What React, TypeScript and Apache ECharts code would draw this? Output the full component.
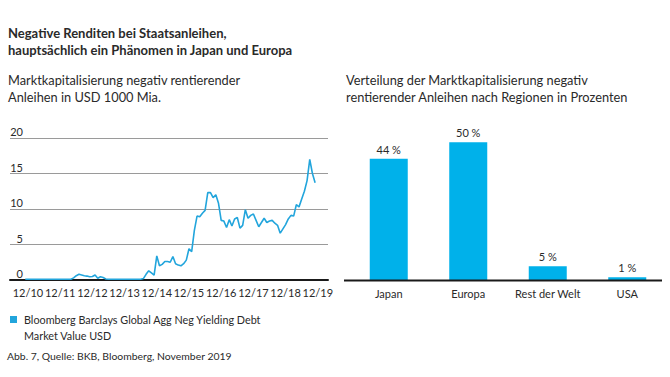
import React, { useEffect, useRef } from "react";
import * as echarts from "echarts";

// Line chart: months counted from Dec 2010 (0 = 12/10), first point is Nov 2010
const startMonth = -1;
const lineValues = [
  0.1, 0.1, 0.1, 0.1, 0.1, 0.1, 0.1, 0.1, 0.1, 0.1,
  0.1, 0.1, 0.1, 0.1, 0.1, 0.1, 0.1, 0.1, 0.3, 0.6,
  0.8, 0.7, 0.6, 0.55, 0.45, 0.5, 0.7, 0.25, 0.45, 0.35,
  0.15, 0.1, 0.1, 0.1, 0.1, 0.1, 0.1, 0.1, 0.1, 0.1,
  0.1, 0.1, 0.1, 0.1, 0.2, 0.8, 1.3, 1.0, 0.7, 3.4,
  2.0, 2.2, 2.6, 2.6, 2.5, 3.3, 2.3, 2.1, 2.0, 2.3,
  2.8, 4.4, 4.0, 7.0, 9.0, 8.9, 9.4, 9.8, 12.3, 12.3,
  11.6, 12.0, 10.8, 8.4, 8.3, 7.4, 8.5, 7.6, 8.6, 8.8,
  7.3, 7.7, 9.9, 8.7, 9.1, 9.3, 8.4, 7.5, 8.1, 8.7,
  8.1, 8.3, 8.4, 8.0, 7.7, 6.6, 7.2, 7.8, 8.6, 9.1,
  9.0, 10.6, 10.3, 11.4, 12.5, 14.0, 17.0, 15.0, 13.7,
];
const yearLabelMonths = [0, 12, 24, 36, 48, 60, 72, 84, 96, 108];
const yearLabels = ["12/10", "12/11", "12/12", "12/13", "12/14", "12/15", "12/16", "12/17", "12/18", "12/19"];
const yTicks = [0, 5, 10, 15, 20];

// Bar chart
const regions = ["Japan", "Europa", "Rest der Welt", "USA"];
const shares = [44, 50, 5, 1];

const title1 = "Negative Renditen bei Staatsanleihen,";
const title2 = "hauptsächlich ein Phänomen in Japan und Europa";
const leftSub = ["Marktkapitalisierung negativ rentierender", "Anleihen in USD 1000 Mia."];
const rightSub = ["Verteilung der Marktkapitalisierung negativ", "rentierender Anleihen nach Regionen in Prozenten"];
const legendLines = ["Bloomberg Barclays Global Agg Neg Yielding Debt", "Market Value USD"];
const sourceText = "Abb. 7, Quelle: BKB, Bloomberg, November 2019";

const FONT = "Lato, 'Open Sans', sans-serif";
const TXT = "#2a2a2a";
const LINE_COLOR = "#22a5dc";
const BAR_COLOR = "#00b1ea";

export default function App() {
  const ref = useRef<HTMLDivElement>(null);
  useEffect(() => {
    if (!ref.current) return;
    const chart = echarts.init(ref.current, undefined, { renderer: "svg" });
    const lineData = lineValues.map((v, i) => [i + startMonth, v]);
    const text = (x: number, y: number, t: string, size: number, weight = "normal") => ({
      type: "text",
      left: x,
      top: y,
      style: { text: t, fill: TXT, font: `${weight} ${size}px ${FONT}` },
    });
    chart.setOption({
      animation: false,
      backgroundColor: "#ffffff",
      textStyle: { fontFamily: FONT },
      grid: [
        { left: 10, top: 138, width: 318, height: 142 },
        { left: 349, top: 142.3, width: 318, height: 137.7 },
      ],
      xAxis: [
        {
          type: "value",
          gridIndex: 0,
          min: -6.7,
          max: 111.8,
          axisLine: { show: true, lineStyle: { color: "#1a1a1a", width: 2 } },
          axisTick: { show: false },
          splitLine: { show: false },
          axisLabel: {
            customValues: yearLabelMonths,
            formatter: (v: number) => yearLabels[yearLabelMonths.indexOf(Math.round(v))] ?? "",
            color: TXT,
            fontSize: 11,
            fontFamily: FONT,
            margin: 7,
          },
        },
        {
          type: "category",
          gridIndex: 1,
          data: regions,
          axisLine: { show: false },
          axisTick: { show: false },
          axisLabel: { interval: 0, color: TXT, fontSize: 11, fontFamily: FONT, margin: 8 },
        },
      ],
      yAxis: [
        {
          type: "value",
          gridIndex: 0,
          min: yTicks[0],
          max: yTicks[yTicks.length - 1],
          interval: 5,
          axisLine: { show: false },
          axisTick: { show: false },
          splitLine: { show: true, lineStyle: { color: "#9a9a9a", width: 1 } },
          axisLabel: {
            inside: true,
            align: "right",
            verticalAlign: "bottom",
            margin: 13,
            color: TXT,
            fontSize: 11,
            fontFamily: FONT,
            padding: [0, 0, 1, 0],
          },
        },
        {
          type: "value",
          gridIndex: 1,
          min: 0,
          max: 50,
          show: false,
        },
      ],
      series: [
        {
          type: "line",
          xAxisIndex: 0,
          yAxisIndex: 0,
          data: lineData,
          showSymbol: false,
          lineStyle: { color: LINE_COLOR, width: 1.6 },
          itemStyle: { color: LINE_COLOR },
          z: 5,
        },
        {
          type: "bar",
          xAxisIndex: 1,
          yAxisIndex: 1,
          data: shares,
          barWidth: 38,
          itemStyle: { color: BAR_COLOR },
          label: {
            show: true,
            position: "top",
            distance: 4,
            formatter: (p: any) => `${p.value} %`,
            color: TXT,
            fontSize: 11,
            fontFamily: FONT,
          },
        },
      ],
      graphic: [
        text(8, 26, title1, 13, "bold"),
        text(8, 43, title2, 13, "bold"),
        text(8, 73, leftSub[0], 12.8),
        text(8, 90, leftSub[1], 12.8),
        text(346, 73, rightSub[0], 12.8),
        text(346, 90, rightSub[1], 12.8),
        {
          type: "line",
          shape: { x1: 344, y1: 280.5, x2: 662, y2: 280.5 },
          style: { stroke: "#1a1a1a", lineWidth: 2 },
          z: 10,
        },
        {
          type: "rect",
          shape: { x: 10, y: 316, width: 7, height: 7 },
          style: { fill: LINE_COLOR },
        },
        text(24, 314, legendLines[0], 10.8),
        text(24, 330, legendLines[1], 10.8),
        text(7, 351, sourceText, 10.4),
      ],
    });
    return () => chart.dispose();
  }, []);
  return (
    <div
      ref={ref}
      style={{ position: "fixed", left: 0, top: 0, width: 670, height: 377 }}
    />
  );
}
